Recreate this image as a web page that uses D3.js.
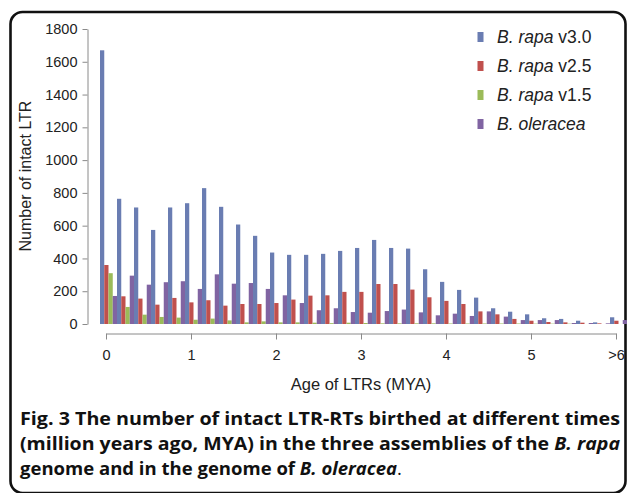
<!DOCTYPE html>
<html><head><meta charset="utf-8">
<script src="https://cdn.jsdelivr.net/npm/d3@7"></script>
<style>body{margin:0;background:#fff}svg{display:block}</style>
</head><body>
<svg id="c" width="629" height="493"></svg>
<script>
const ages = [0,0.2,0.4,0.6,0.8,1.0,1.2,1.4,1.6,1.8,2.0,2.2,2.4,2.6,2.8,3.0,3.2,3.4,3.6,3.8,4.0,4.2,4.4,4.6,4.8,5.0,5.2,5.4,5.6,5.8,6.0];
const seriesNames = ["B. rapa v3.0","B. rapa v2.5","B. rapa v1.5","B. oleracea"];
const rapaV30 = [1670,764,711,574,711,737,829,715,607,538,436,422,422,428,446,464,513,464,460,334,257,208,161,96,75,59,35,31,20,10,41];
const rapaV25 = [360,169,155,118,159,132,145,112,122,122,128,149,173,175,196,196,244,244,210,163,141,122,77,59,31,20,12,10,8,4,20];
const rapaV15 = [310,104,57,43,39,26,33,22,10,16,10,10,8,5,8,6,4,4,4,4,3,3,3,3,3,2,2,2,0,0,0];
const oleracea = [171,295,240,255,261,214,303,246,250,214,175,128,84,96,73,69,79,88,71,53,63,49,77,45,24,24,24,6,6,4,24];
const xTickValues = [0,1,2,3,4,5,6];
const xTickLabels = ["0","1","2","3","4","5",">6"];
const yTickValues = [0,200,400,600,800,1000,1200,1400,1600,1800];
const colors = ["#6a7db2","#c0504d","#9bbb59","#8064a2"];

const allSeries = [rapaV30, rapaV25, rapaV15, oleracea];
const svg = d3.select("#c");
const font = "'Liberation Sans', Arial, sans-serif";

// frame
svg.append("rect").attr("x",10.5).attr("y",12).attr("width",615).attr("height",481)
  .attr("rx",12).attr("fill","none").attr("stroke","#111").attr("stroke-width",2.6);

const x = d3.scaleLinear().domain([0,6]).range([106,616]);
const y = d3.scaleLinear().domain([0,1800]).range([324,29]);
const groupW = x(0.2) - x(0);
const inner = d3.scaleBand().domain(d3.range(4)).range([0, groupW]);

// bars
allSeries.forEach((vals, s) => {
  svg.append("g").selectAll("rect").data(vals).join("rect")
    .attr("x", (d,i) => x(ages[i]) - 6 + inner(s))
    .attr("y", d => y(d))
    .attr("width", inner.bandwidth())
    .attr("height", d => y(0) - y(d))
    .attr("fill", colors[s]);
});

// y axis
const yAxis = svg.append("g").attr("transform","translate(87.5,0)")
  .call(d3.axisLeft(y).tickValues(yTickValues).tickFormat(d3.format("d")).tickSize(5).tickSizeOuter(0).tickPadding(5));
yAxis.selectAll("path,line").attr("stroke","#8a8a8a");
yAxis.selectAll("text").attr("font-family",font).attr("font-size",14.5).attr("fill","#222");

// x axis
const xAxis = svg.append("g").attr("transform","translate(0,333.5)")
  .call(d3.axisBottom(x).tickValues(xTickValues).tickFormat((d,i)=>xTickLabels[i]).tickSize(6).tickSizeOuter(0).tickPadding(10));
xAxis.selectAll("path,line").attr("stroke","#8a8a8a");
xAxis.selectAll("text").attr("font-family",font).attr("font-size",14.5).attr("fill","#222");

// axis titles
svg.append("text").attr("x",361).attr("y",390).attr("text-anchor","middle")
  .attr("font-family",font).attr("font-size",16.5).attr("fill","#222").text("Age of LTRs (MYA)");
svg.append("text").attr("transform","translate(31,176) rotate(-90)").attr("text-anchor","middle")
  .attr("font-family",font).attr("font-size",16).attr("fill","#222").text("Number of intact LTR");

// legend
const legParts = [["B. rapa"," v3.0"],["B. rapa"," v2.5"],["B. rapa"," v1.5"],["B. oleracea",""]];
const leg = svg.append("g");
seriesNames.forEach((n,i) => {
  const cy = 37 + i*29;
  leg.append("rect").attr("x",477.5).attr("y",cy-5).attr("width",6).attr("height",10).attr("fill",colors[i]);
  const t = leg.append("text").attr("x",497).attr("y",cy+6).attr("font-family",font).attr("font-size",17.5).attr("fill","#222");
  t.append("tspan").attr("font-style","italic").text(legParts[i][0]);
  if (legParts[i][1]) t.append("tspan").text(legParts[i][1]);
});

// caption
const capFont = "'Open Sans', 'Noto Sans', sans-serif";
const cap = svg.append("g").attr("font-family",capFont).attr("font-weight",700).attr("font-size",18).attr("fill","#111");
const l1 = cap.append("text").attr("x",20).attr("y",424.5);
l1.text("Fig. 3 The number of intact LTR-RTs birthed at different times");
const l2 = cap.append("text").attr("x",20).attr("y",449.5);
l2.append("tspan").text("(million years ago, MYA) in the three assemblies of the ");
l2.append("tspan").attr("font-style","italic").text("B. rapa");
const l3 = cap.append("text").attr("x",20).attr("y",474.5);
l3.append("tspan").text("genome and in the genome of ");
l3.append("tspan").attr("font-style","italic").text("B. oleracea");
l3.append("tspan").attr("font-weight",400).text(".");
l1.attr("textLength",600).attr("lengthAdjust","spacingAndGlyphs");
l2.attr("textLength",600).attr("lengthAdjust","spacingAndGlyphs");
l3.attr("textLength",382).attr("lengthAdjust","spacingAndGlyphs");
</script>
</body></html>
